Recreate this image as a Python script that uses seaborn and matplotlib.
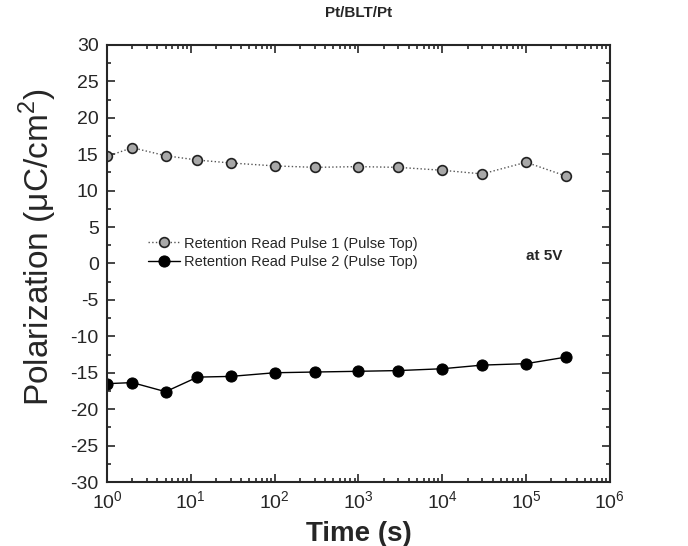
import pandas as pd
import matplotlib
matplotlib.use("Agg")
import matplotlib.pyplot as plt
import seaborn as sns
from matplotlib.ticker import MultipleLocator, LogLocator, NullFormatter

# ----------------------------
# Data
# ----------------------------
time_s = [1, 2, 5, 12, 30, 100, 300, 1000, 3000, 1e4, 3e4, 1e5, 3e5]
pulse1 = [14.7, 15.9, 14.8, 14.2, 13.8, 13.4, 13.2, 13.3, 13.2, 12.8, 12.3, 13.9, 12.0]
pulse2 = [-16.5, -16.35, -17.6, -15.6, -15.5, -15.0, -14.9, -14.8, -14.7, -14.45, -13.95, -13.75, -12.85]

label1 = "Retention Read Pulse 1 (Pulse Top)"
label2 = "Retention Read Pulse 2 (Pulse Top)"

df = pd.DataFrame({"Time": time_s, "P1": pulse1, "P2": pulse2})

sns.set_style("ticks")
plt.rcParams["font.family"] = ["Liberation Sans", "DejaVu Sans"]
plt.rcParams["mathtext.fontset"] = "custom"
plt.rcParams["mathtext.rm"] = "Liberation Sans"
plt.rcParams["axes.unicode_minus"] = False

fig = plt.figure(figsize=(6.88, 5.46), dpi=100)
ax = fig.add_axes([0.1555, 0.1172, 0.731, 0.8004])

sns.lineplot(data=df, x="Time", y="P1", ax=ax, color="#555555", linestyle=":",
             linewidth=1.0, marker="o", markersize=7, markerfacecolor="#a8a8a8",
             markeredgecolor="#222222", markeredgewidth=1.2, label=label1)
sns.lineplot(data=df, x="Time", y="P2", ax=ax, color="black", linestyle="-",
             linewidth=1.0, marker="o", markersize=8, markerfacecolor="black",
             markeredgecolor="black", label=label2)

ax.set_xscale("log")
ax.set_xlim(1, 1e6)
ax.set_ylim(-30, 30)
ax.yaxis.set_major_locator(MultipleLocator(5))
ax.yaxis.set_minor_locator(MultipleLocator(2.5))
ax.xaxis.set_major_locator(LogLocator(base=10, numticks=10))
ax.xaxis.set_minor_locator(LogLocator(base=10, subs=range(2, 10), numticks=100))
ax.xaxis.set_minor_formatter(NullFormatter())

ax.tick_params(which="both", direction="in", top=True, right=True, width=1.2)
ax.tick_params(which="major", length=6, labelsize=14, pad=6)
ax.tick_params(which="minor", length=3)
for sp in ax.spines.values():
    sp.set_linewidth(1.5)

ax.set_xlabel("Time (s)", fontsize=20, fontweight="bold", labelpad=6)
ax.set_ylabel("Polarization (μC/cm$^{2}$)", fontsize=24, labelpad=0)
ax.yaxis.set_label_coords(-0.095, 0.537)
ax.set_title("Pt/BLT/Pt", fontsize=11, fontweight="bold", pad=20)

ax.text(0.87, 0.517, "at 5V", transform=ax.transAxes, fontsize=11,
        fontweight="bold", ha="center", va="center")

leg = ax.legend(loc="upper left", bbox_to_anchor=(0.07, 0.575), frameon=False,
                fontsize=10.5, handlelength=2.2, handletextpad=0.3,
                labelspacing=0.3, borderaxespad=0)

fig.savefig("out.png", dpi=100)
plt.close(fig)
